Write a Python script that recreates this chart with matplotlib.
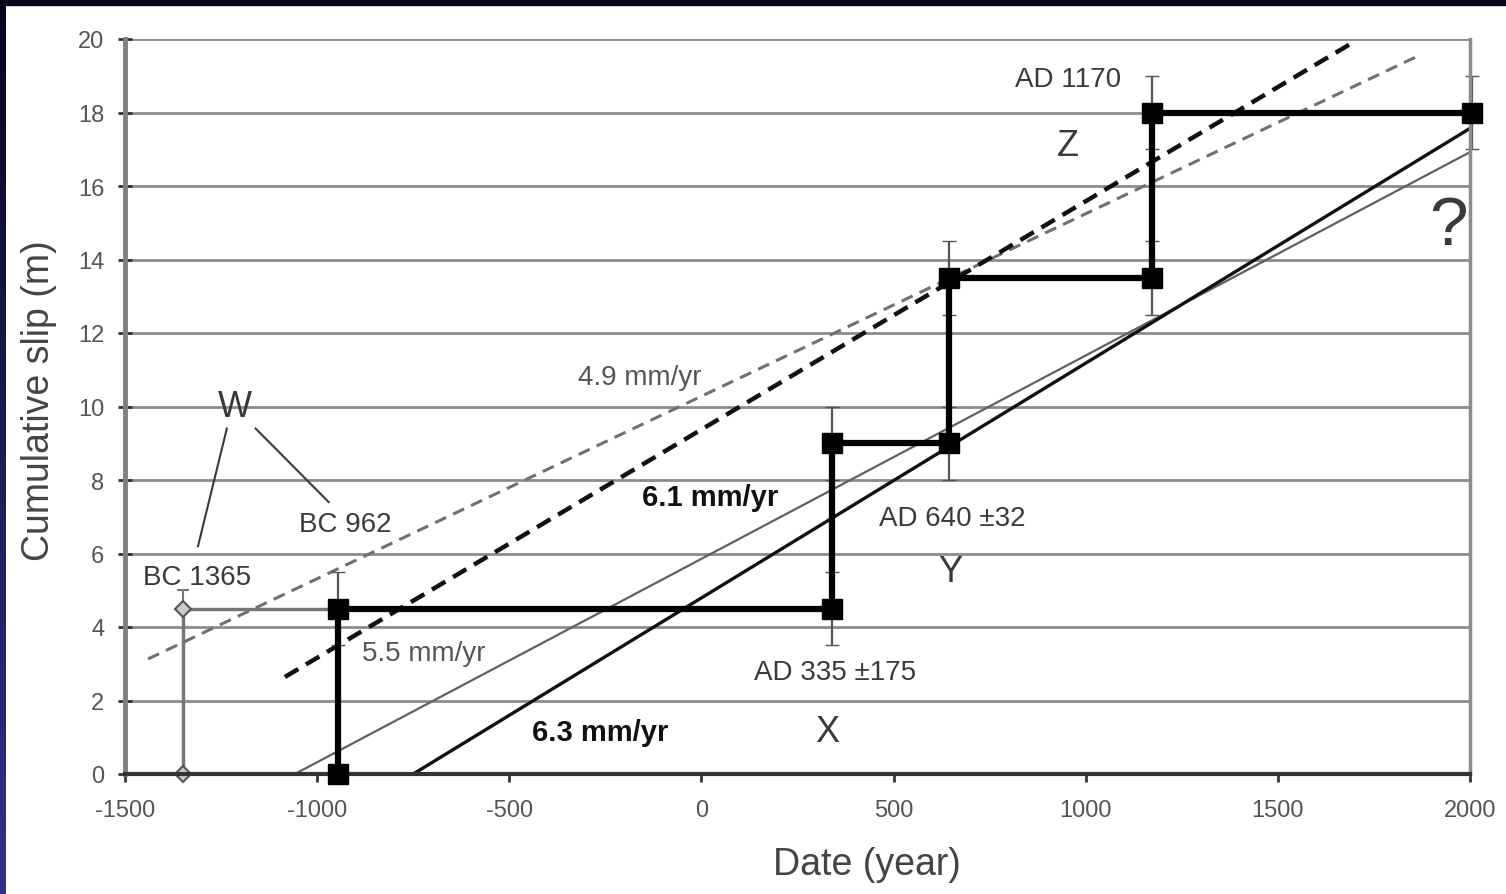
import numpy as np
import matplotlib
matplotlib.use("Agg")
import matplotlib.pyplot as plt

plt.rcParams['font.family'] = ['Liberation Sans', 'DejaVu Sans']
plt.rcParams['axes.unicode_minus'] = False

# cumulative slip steps (event date, slip)
step_x = [-945, -945, 340, 340, 645, 645, 1172, 1172, 2005]
step_y = [0, 4.5, 4.5, 9, 9, 13.5, 13.5, 18, 18]
step_err = [0, 1, 1, 1, 1, 1, 1, 1, 1]

# alternative W date (BC 1365)
alt_x = [-1350, -1350, -945]
alt_y = [0, 4.5, 4.5]
alt_err = [0, 0.5, 0]

# slip-rate lines: (x0, x1, y0, y1)
rate_49 = ([-1440, 1865], [3.13, 19.54])
rate_61 = ([-1084, 1688], [2.64, 19.86])
rate_55 = ([-1058, 2005], [0.0, 16.95])
rate_63 = ([-750, 2005], [0.0, 17.6])

xticks = [-1500, -1000, -500, 0, 500, 1000, 1500, 2000]
yticks = [0, 2, 4, 6, 8, 10, 12, 14, 16, 18, 20]

fig = plt.figure(figsize=(15.06, 8.95), dpi=100, facecolor='white')
ax = fig.add_axes([125 / 1506, 1 - 775 / 895, 1345 / 1506, 735 / 895])

# horizontal grid
for yv in yticks:
    ax.axhline(yv, color='#8c8c8c', lw=2.0, zorder=1)

# rate lines
ax.plot(*rate_49, color='#707070', lw=2.2, ls=(0, (4, 2.5)), zorder=3)
ax.plot(*rate_61, color='#111111', lw=3.2, ls=(0, (3.5, 2)), zorder=3)
ax.plot(*rate_55, color='#606060', lw=1.6, zorder=3)
ax.plot(*rate_63, color='#111111', lw=2.4, zorder=3)

# alternative BC 1365 path
ax.plot(alt_x, alt_y, color='#777777', lw=2.5, zorder=2, clip_on=False)
ax.errorbar(alt_x[:2], alt_y[:2], yerr=[[0, 0], alt_err[:2]], fmt='D', ms=8,
            mfc='#cccccc', mec='#555555', mew=1.5, ecolor='#777777', elinewidth=1.5,
            capsize=4, zorder=4, clip_on=False)

# stair-step slip history
ax.errorbar(step_x, step_y, yerr=step_err, fmt='none', ecolor='#555555',
            elinewidth=1.6, capsize=5, zorder=4, clip_on=False)
ax.plot(step_x, step_y, color='black', lw=4.5, marker='s', ms=15,
        mfc='black', mec='black', zorder=7, clip_on=False)

# labels
gray = '#3a3a3a'
ann = 20
ax.text(-1214, 10.0, 'W', fontsize=26, color=gray, ha='center', va='center')
ax.plot([-1235, -1310], [9.4, 6.2], color=gray, lw=1.5)
ax.plot([-1160, -970], [9.4, 7.4], color=gray, lw=1.5)
ax.text(-1313, 5.35, 'BC 1365', fontsize=ann, color=gray, ha='center', va='center')
ax.text(-927, 6.8, 'BC 962', fontsize=ann, color=gray, ha='center', va='center')
ax.text(-883, 3.3, '5.5 mm/yr', fontsize=ann, color='#555555', ha='left', va='center')
ax.text(-160, 10.8, '4.9 mm/yr', fontsize=ann, color='#555555', ha='center', va='center')
ax.text(22, 7.55, '6.1 mm/yr', fontsize=21, color='#111111', fontweight='bold',
        ha='center', va='center')
ax.text(-264, 1.15, '6.3 mm/yr', fontsize=21, color='#111111', fontweight='bold',
        ha='center', va='center')
ax.text(347, 2.78, 'AD 335 \u00b1175', fontsize=ann, color=gray, ha='center', va='center')
ax.text(327, 1.15, 'X', fontsize=26, color=gray, ha='center', va='center')
ax.text(652, 6.97, 'AD 640 \u00b132', fontsize=ann, color=gray, ha='center', va='center')
ax.text(647, 5.5, 'Y', fontsize=26, color=gray, ha='center', va='center')
ax.text(954, 18.9, 'AD 1170', fontsize=ann, color=gray, ha='center', va='center')
ax.text(954, 17.1, 'Z', fontsize=26, color=gray, ha='center', va='center')
ax.text(1943, 14.9, '?', fontsize=50, color=gray, ha='center', va='center')

ax.set_xlim(-1500, 2000)
ax.set_ylim(0, 20)
ax.set_xticks(xticks)
ax.set_yticks(yticks)
ax.tick_params(axis='x', direction='out', length=6, width=2, color='#333333',
               labelsize=17, labelcolor='#555555', pad=12)
ax.tick_params(axis='y', direction='inout', length=10, width=2, color='#333333',
               labelsize=17, labelcolor='#555555', pad=10)
ax.set_xlabel('Date (year)', fontsize=27, color='#444444')
ax.set_ylabel('Cumulative slip (m)', fontsize=27, color='#444444')
ax.xaxis.set_label_coords(742 / 1345, -72 / 735)
ax.yaxis.set_label_coords(-68 / 1345, 0.51)

ax.spines['left'].set_color('#808080')
ax.spines['left'].set_linewidth(3.5)
ax.spines['bottom'].set_color('#333333')
ax.spines['bottom'].set_linewidth(3)
ax.spines['right'].set_color('#8c8c8c')
ax.spines['right'].set_linewidth(2.5)
ax.spines['top'].set_visible(False)
for sp in ax.spines.values():
    sp.set_zorder(6)

# dark slide frame (top and left edges)
fig.patches.append(plt.Rectangle((0, 1 - 6 / 895), 1, 6 / 895, transform=fig.transFigure,
                                 color='#06061a', zorder=0))
edge = fig.add_axes([0, 0, 6 / 1506, 1])
edge.imshow(np.linspace(0, 1, 100).reshape(-1, 1), aspect='auto',
            cmap=matplotlib.colors.LinearSegmentedColormap.from_list('frame', ['#06061a', '#2e3388']))
edge.axis('off')

fig.savefig('out.png', dpi=100, facecolor='white')
